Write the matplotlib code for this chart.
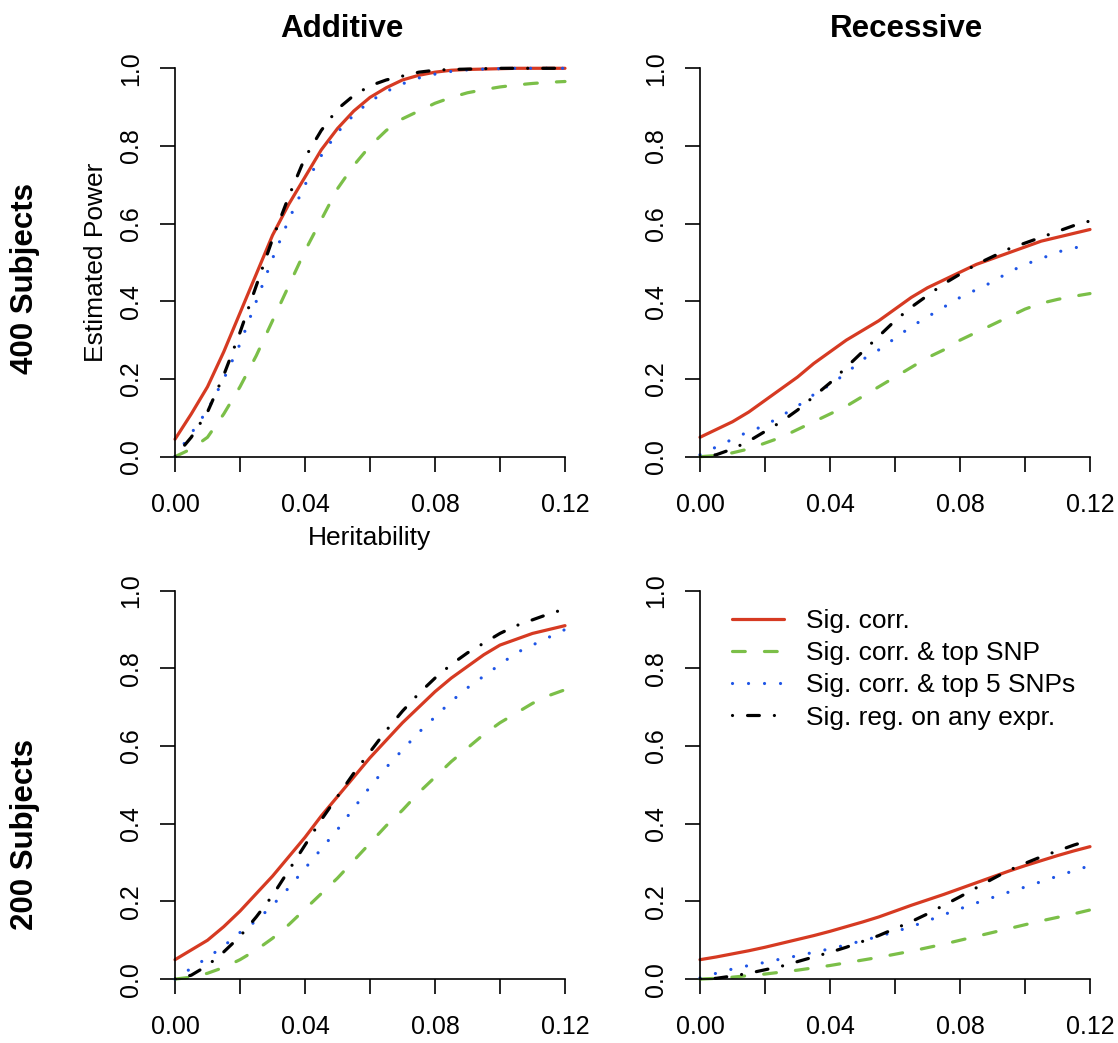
import matplotlib
matplotlib.use("Agg")
import matplotlib.pyplot as plt

plt.rcParams["font.family"] = ["Liberation Sans", "DejaVu Sans"]

# heritability grid shared by all panels
heritability = [0.000, 0.005, 0.010, 0.015, 0.020, 0.025, 0.030, 0.035, 0.040,
                0.045, 0.050, 0.055, 0.060, 0.065, 0.070, 0.075, 0.080, 0.085,
                0.090, 0.095, 0.100, 0.105, 0.110, 0.115, 0.120]

series_labels = ["Sig. corr.", "Sig. corr. & top SNP",
                 "Sig. corr. & top 5 SNPs", "Sig. reg. on any expr."]
col_titles = ["Additive", "Recessive"]
row_titles = ["400 Subjects", "200 Subjects"]

# Additive, 400 subjects
add400_corr = [0.045, 0.11, 0.18, 0.27, 0.37, 0.47, 0.57, 0.65, 0.72, 0.79, 0.845, 0.89, 0.925,
               0.95, 0.97, 0.982, 0.99, 0.995, 0.997, 0.998, 0.999, 1.0, 1.0, 1.0, 1.0]
add400_top = [0.0, 0.02, 0.05, 0.11, 0.18, 0.26, 0.35, 0.44, 0.53, 0.61, 0.69, 0.75, 0.80,
              0.84, 0.87, 0.89, 0.91, 0.925, 0.937, 0.945, 0.952, 0.957, 0.961, 0.964, 0.966]
add400_top5 = [0.0, 0.06, 0.12, 0.20, 0.29, 0.40, 0.51, 0.61, 0.70, 0.775, 0.835, 0.88, 0.915,
               0.94, 0.96, 0.975, 0.985, 0.992, 0.996, 0.998, 0.999, 1.0, 1.0, 1.0, 1.0]
add400_reg = [0.0, 0.05, 0.115, 0.21, 0.32, 0.44, 0.56, 0.67, 0.77, 0.84, 0.895, 0.93, 0.955,
              0.97, 0.98, 0.99, 0.995, 0.997, 0.998, 0.999, 1.0, 1.0, 1.0, 1.0, 1.0]

# Recessive, 400 subjects
rec400_corr = [0.05, 0.07, 0.09, 0.115, 0.145, 0.175, 0.205, 0.24, 0.27, 0.30, 0.325, 0.35, 0.38,
               0.41, 0.435, 0.455, 0.475, 0.495, 0.51, 0.525, 0.54, 0.555, 0.565, 0.575, 0.585]
rec400_top = [0.0, 0.003, 0.01, 0.02, 0.035, 0.05, 0.07, 0.09, 0.11, 0.13, 0.155, 0.18, 0.205,
              0.23, 0.255, 0.275, 0.30, 0.32, 0.34, 0.36, 0.38, 0.395, 0.405, 0.413, 0.42]
rec400_top5 = [0.005, 0.025, 0.045, 0.065, 0.08, 0.105, 0.13, 0.16, 0.185, 0.215, 0.25, 0.275, 0.305,
               0.335, 0.36, 0.385, 0.41, 0.43, 0.45, 0.475, 0.495, 0.51, 0.527, 0.537, 0.547]
rec400_reg = [0.0, 0.005, 0.02, 0.04, 0.065, 0.09, 0.12, 0.155, 0.19, 0.23, 0.27, 0.31, 0.35,
              0.385, 0.415, 0.445, 0.47, 0.495, 0.515, 0.535, 0.55, 0.565, 0.58, 0.595, 0.607]

# Additive, 200 subjects
add200_corr = [0.05, 0.075, 0.10, 0.135, 0.175, 0.22, 0.265, 0.315, 0.365, 0.42, 0.47, 0.52, 0.57,
               0.615, 0.66, 0.70, 0.74, 0.775, 0.805, 0.835, 0.86, 0.875, 0.89, 0.90, 0.91]
add200_top = [0.0, 0.005, 0.015, 0.03, 0.05, 0.075, 0.105, 0.14, 0.18, 0.22, 0.26, 0.305, 0.35,
              0.395, 0.435, 0.48, 0.52, 0.56, 0.595, 0.63, 0.66, 0.685, 0.71, 0.73, 0.745]
add200_top5 = [0.0, 0.028, 0.055, 0.085, 0.12, 0.15, 0.19, 0.235, 0.285, 0.335, 0.385, 0.44, 0.495,
               0.545, 0.59, 0.635, 0.675, 0.715, 0.75, 0.78, 0.81, 0.84, 0.86, 0.88, 0.90]
add200_reg = [0.0, 0.01, 0.035, 0.07, 0.11, 0.16, 0.215, 0.28, 0.345, 0.41, 0.47, 0.53, 0.585,
              0.64, 0.69, 0.735, 0.775, 0.81, 0.84, 0.865, 0.89, 0.91, 0.925, 0.94, 0.953]

# Recessive, 200 subjects
rec200_corr = [0.05, 0.057, 0.065, 0.073, 0.082, 0.092, 0.102, 0.112, 0.123, 0.135, 0.147, 0.16, 0.175,
               0.19, 0.204, 0.218, 0.233, 0.248, 0.263, 0.278, 0.292, 0.305, 0.318, 0.33, 0.341]
rec200_top = [0.0, 0.002, 0.005, 0.009, 0.013, 0.018, 0.023, 0.029, 0.035, 0.042, 0.049, 0.056, 0.064,
              0.072, 0.081, 0.09, 0.10, 0.11, 0.12, 0.13, 0.14, 0.15, 0.159, 0.168, 0.178]
rec200_top5 = [0.003, 0.015, 0.026, 0.035, 0.043, 0.052, 0.06, 0.069, 0.078, 0.088, 0.099, 0.11, 0.122,
               0.135, 0.15, 0.166, 0.181, 0.196, 0.21, 0.224, 0.237, 0.251, 0.265, 0.279, 0.292]
rec200_reg = [0.0, 0.002, 0.008, 0.015, 0.024, 0.033, 0.045, 0.057, 0.069, 0.082, 0.097, 0.112, 0.13,
              0.148, 0.168, 0.19, 0.212, 0.235, 0.258, 0.28, 0.298, 0.315, 0.33, 0.345, 0.358]

panels = [
    [[add400_corr, add400_top, add400_top5, add400_reg],
     [rec400_corr, rec400_top, rec400_top5, rec400_reg]],
    [[add200_corr, add200_top, add200_top5, add200_reg],
     [rec200_corr, rec200_top, rec200_top5, rec200_reg]],
]

x_ticks = [0.0, 0.02, 0.04, 0.06, 0.08, 0.10, 0.12]
x_ticklabels = ["0.00", "", "0.04", "", "0.08", "", "0.12"]
y_ticks = [0.0, 0.2, 0.4, 0.6, 0.8, 1.0]
y_ticklabels = ["0.0", "0.2", "0.4", "0.6", "0.8", "1.0"]

# R-ish line styles: solid, dashed, dotted, dot-dash (round caps)
styles = [
    dict(color="#D63A22", linestyle="-"),
    dict(color="#7BBF48", linestyle=(0, (4.0, 6.0))),
    dict(color="#1F55E6", linestyle=(0, (0.01, 5.0))),
    dict(color="#000000", linestyle=(0, (0.01, 4.7, 3.7, 4.7))),
]

W, H = 1118, 1043
fig = plt.figure(figsize=(W / 100, H / 100), dpi=100)

# axes boxes in pixels: (left, top) ; size 390 x 388
lefts = [175, 700]
tops = [68.3, 590.7]
axw, axh = 390, 388.4

for r in range(2):
    for c in range(2):
        ax = fig.add_axes([lefts[c] / W, 1 - (tops[r] + axh) / H, axw / W, axh / H])
        for vals, label, st in zip(panels[r][c], series_labels, styles):
            ax.plot(heritability, vals, lw=2.3, label=label, clip_on=False,
                    dash_capstyle="round", solid_capstyle="round", **st)
        ax.set_xlim(0, 0.12)
        ax.set_ylim(0, 1)
        for s in ["top", "right"]:
            ax.spines[s].set_visible(False)
        for s in ["left", "bottom"]:
            ax.spines[s].set_linewidth(1.2)
        ax.set_xticks(x_ticks)
        ax.set_xticklabels(x_ticklabels)
        ax.set_yticks(y_ticks)
        ax.set_yticklabels(y_ticklabels, rotation=90, va="center")
        ax.tick_params(axis="both", direction="out", length=10.8, width=1.2, labelsize=18)
        ax.tick_params(axis="x", pad=15)
        ax.tick_params(axis="y", pad=12)
        ax.patch.set_visible(False)
        if r == 1 and c == 1:
            ax.legend(loc="upper left", bbox_to_anchor=(732 / W, 1 - 609 / H),
                      bbox_transform=fig.transFigure, frameon=False, fontsize=19,
                      handlelength=1.97, handletextpad=0.83, labelspacing=0.31,
                      borderpad=0, borderaxespad=0)

fig.text(342 / W, 1 - 36.6 / H, col_titles[0], fontsize=22.5, fontweight="bold",
         ha="center", va="baseline")
fig.text(907 / W, 1 - 36.6 / H, col_titles[1], fontsize=22.5, fontweight="bold",
         ha="center", va="baseline")
fig.text(24.7 / W, 1 - 278.5 / H, row_titles[0], fontsize=22.5, fontweight="bold",
         rotation=90, ha="center", va="center")
fig.text(24.7 / W, 1 - 835 / H, row_titles[1], fontsize=22.5, fontweight="bold",
         rotation=90, ha="center", va="center")
fig.text(96.4 / W, 1 - 262 / H, "Estimated Power", fontsize=19, rotation=90,
         ha="center", va="center")
fig.text(370 / W, 1 - 545 / H, "Heritability", fontsize=19, ha="center", va="baseline")

fig.savefig("out.png", dpi=100)
